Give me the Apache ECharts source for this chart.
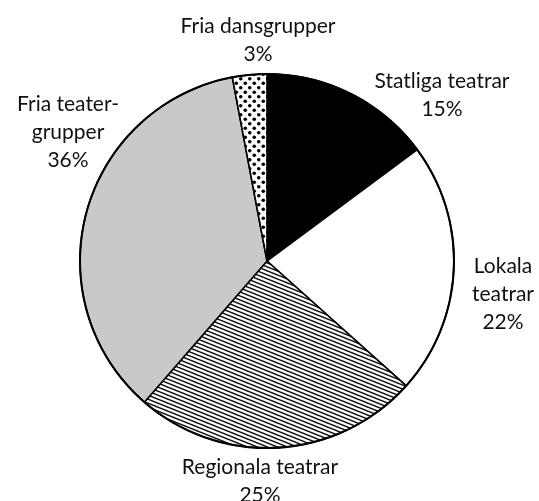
<!DOCTYPE html>
<html>
<head>
<meta charset="utf-8">
<script src="https://cdn.jsdelivr.net/npm/echarts@6/dist/echarts.min.js"></script>
<style>
html,body{margin:0;padding:0;background:#fff;}
#chart{width:539px;height:501px;}
</style>
</head>
<body>
<div id="chart"></div>
<script>
// ---- data ----
const categories = ['Statliga teatrar', 'Lokala teatrar', 'Regionala teatrar', 'Fria teatergrupper', 'Fria dansgrupper'];
const values = [15, 22, 25, 36, 3];
const labelTexts = ['Statliga teatrar', 'Lokala\nteatrar', 'Regionala teatrar', 'Fria teater-\ngrupper', 'Fria dansgrupper'];

// ---- label placement (layout only) ----
const labelPos = [[442, 95], [503, 294], [260, 481], [68, 132], [258, 40]];

function hatchPattern() {
  const c = document.createElement('canvas');
  c.width = 10; c.height = 4;
  const g = c.getContext('2d');
  g.fillStyle = '#fff'; g.fillRect(0, 0, 10, 4);
  g.strokeStyle = '#111'; g.lineWidth = 1.5;
  for (const off of [-4, 0, 4]) {
    g.beginPath(); g.moveTo(-1, off - 0.4); g.lineTo(11, off + 4.4); g.stroke();
  }
  return c;
}
function dotPattern() {
  const c = document.createElement('canvas');
  c.width = 9; c.height = 9;
  const g = c.getContext('2d');
  g.fillStyle = '#fff'; g.fillRect(0, 0, 9, 9);
  g.fillStyle = '#000';
  for (const [x, y] of [[2.25, 2.25], [6.75, 6.75]]) {
    g.beginPath(); g.arc(x, y, 1.8, 0, Math.PI * 2); g.fill();
  }
  return c;
}

const fills = [
  '#000000',
  '#ffffff',
  { image: hatchPattern(), repeat: 'repeat' },
  '#c9c9c9',
  { image: dotPattern(), repeat: 'repeat' }
];

const chart = echarts.init(document.getElementById('chart'), null, { renderer: 'canvas' });
chart.setOption({
  animation: false,
  backgroundColor: '#fff',
  series: [
    {
      type: 'pie',
      center: [267, 261],
      radius: [0, 187],
      startAngle: 90,
      clockwise: true,
      silent: true,
      data: categories.map((n, i) => ({
        name: n,
        value: values[i],
        itemStyle: { color: fills[i] }
      })),
      itemStyle: { borderColor: '#000', borderWidth: 1.6 },
      label: {
        show: true,
        position: 'outside',
        formatter: p => labelTexts[p.dataIndex] + '\n' + values[p.dataIndex] + '%',
        fontFamily: 'Lato',
        fontSize: 21,
        lineHeight: 28,
        color: '#111',
        align: 'center',
        overflow: 'none',
        width: 200
      },
      labelLine: { show: false },
      labelLayout: p => ({
        x: labelPos[p.dataIndex][0],
        y: labelPos[p.dataIndex][1],
        align: 'center',
        verticalAlign: 'middle'
      })
    },
    {
      type: 'pie',
      center: [267, 261],
      radius: [186, 188],
      silent: true,
      label: { show: false },
      labelLine: { show: false },
      itemStyle: { color: '#000' },
      data: [{ name: 'outline', value: 1 }]
    }
  ]
});
</script>
</body>
</html>
